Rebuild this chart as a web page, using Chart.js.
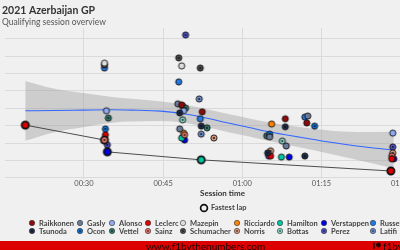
<!DOCTYPE html>
<html>
<head>
<meta charset="utf-8">
<script src="https://cdn.jsdelivr.net/npm/chart.js@4.4.1/dist/chart.umd.min.js"></script>
<style>
  html, body { margin: 0; padding: 0; background: #f0f0f0; overflow: hidden; }
  #wrap { width: 400px; height: 250px; overflow: hidden; }
</style>
</head>
<body>
<div id="wrap"><canvas id="chart" width="445" height="250"></canvas></div>
<script>
// drivers in legend order (column by column), second driver of each team gets a dot
const drivers = ['Raikkonen', 'Tsunoda', 'Gasly', 'Ocon', 'Alonso', 'Vettel', 'Leclerc', 'Sainz', 'Mazepin',
    'Schumacher', 'Ricciardo', 'Norris', 'Hamilton', 'Bottas', 'Verstappen', 'Perez', 'Russell', 'Latifi'];
const driverColors = ['#8f0a0a', '#1d2a48', '#6b7a99', '#0b6fd6', '#8eaaf2', '#2f7a6c', '#dc0000', '#e4716a', '#dedede',
    '#4a4a4a', '#ff8200', '#d3967a', '#00c4a4', '#86d4c8', '#0000e6', '#4f4fc4', '#1f78e4', '#6f8dcc'];
const withDot = [false, true, false, true, false, true, false, true, false,
    true, false, true, false, true, false, true, false, true];

// every lap: driver, session time (minutes), lap time (seconds)
const lapDriver = [
    'Raikkonen', 'Raikkonen', 'Raikkonen', 'Raikkonen',
    'Tsunoda', 'Tsunoda', 'Tsunoda', 'Tsunoda', 'Tsunoda',
    'Gasly', 'Gasly', 'Gasly', 'Gasly', 'Gasly',
    'Ocon', 'Ocon', 'Ocon',
    'Alonso', 'Alonso', 'Alonso',
    'Vettel', 'Vettel', 'Vettel', 'Vettel',
    'Leclerc', 'Leclerc', 'Leclerc',
    'Sainz', 'Sainz',
    'Schumacher', 'Schumacher', 'Schumacher',
    'Mazepin', 'Mazepin',
    'Ricciardo', 'Ricciardo',
    'Norris', 'Norris', 'Norris', 'Norris',
    'Hamilton', 'Hamilton',
    'Bottas', 'Bottas',
    'Verstappen', 'Verstappen', 'Verstappen',
    'Perez', 'Perez', 'Perez', 'Perez',
    'Russell', 'Russell', 'Russell', 'Russell',
    'Latifi', 'Latifi'
];
const lapSession = [
    48.52, 52.41, 68.15, 72.22,
    48.15, 52.22, 68.15, 64.81, 71.85,
    47.78, 48.15, 72.41, 68.33, 65.19,
    34.07, 73.70, 65.19,
    34.26, 48.89, 88.52,
    34.63, 49.26, 53.33, 64.63,
    34.07, 65.37, 88.33,
    49.07, 88.33,
    33.89, 47.96, 52.04,
    33.89, 48.52,
    48.89, 65.56,
    48.70, 54.63, 65.37, 88.52,
    48.52, 67.41,
    48.70, 67.59,
    49.07, 68.89, 88.70,
    34.44, 49.26, 65.00, 88.52,
    33.89, 47.96, 52.04, 71.85,
    51.85, 52.22
];
const lapSeconds = [
    103.10, 102.90, 102.70, 102.58,
    102.87, 102.49, 102.47, 101.72, 101.63,
    103.13, 102.41, 102.78, 101.92, 102.18,
    102.41, 102.49, 102.26,
    102.93, 102.93, 102.29,
    102.72, 103.01, 102.44, 102.21,
    102.24, 101.63, 101.55,
    102.24, 101.63,
    104.25, 104.45, 104.16,
    104.30, 104.22,
    102.29, 102.55,
    103.07, 102.15, 101.78, 101.72,
    102.15, 101.60,
    102.67, 102.06,
    102.09, 101.60, 101.55,
    101.95, 105.11, 101.63, 101.89,
    104.16, 103.76, 102.70, 102.75,
    103.27, 102.26
];

// progression of the session's fastest lap
const fastDriver = ['Leclerc', 'Sainz', 'Verstappen', 'Hamilton', 'Leclerc'];
const fastSession = [18.89, 33.89, 34.44, 52.22, 88.15];
const fastSeconds = [102.52, 102.09, 101.75, 101.52, 101.20];

// smoothed trend with its confidence band
const trendSession = [18.89, 24.26, 29.81, 35.37, 39.07, 44.63, 49.26, 52.04, 57.59, 61.30, 65.00, 70.56, 76.11, 81.67, 88.70];
const trendFit = [102.93, 102.94, 102.95, 102.96, 102.95, 102.92, 102.84, 102.76, 102.57, 102.45, 102.33, 102.18, 102.04, 101.92, 101.80];
const trendUpper = [103.79, 103.57, 103.44, 103.33, 103.28, 103.20, 103.10, 103.02, 102.83, 102.71, 102.60, 102.47, 102.37, 102.32, 102.33];
const trendLower = [102.07, 102.31, 102.46, 102.59, 102.62, 102.64, 102.58, 102.50, 102.31, 102.19, 102.06, 101.89, 101.71, 101.52, 101.27];

const xTicks = [30, 45, 60, 75, 90];

function makeMarker(color, dot, fast) {
    const size = 12;
    const c = document.createElement('canvas');
    c.width = size;
    c.height = size;
    const g = c.getContext('2d');
    g.beginPath();
    g.arc(size / 2, size / 2, fast ? 3.6 : 3.1, 0, Math.PI * 2);
    g.fillStyle = color;
    g.fill();
    g.lineWidth = fast ? 1.8 : 0.9;
    g.strokeStyle = '#111';
    g.stroke();
    if (dot) {
        g.beginPath();
        g.arc(size / 2, size / 2, 0.9, 0, Math.PI * 2);
        g.fillStyle = '#111';
        g.fill();
    }
    return c;
}

function pts(xs, ys) {
    return xs.map((x, i) => ({ x: x, y: ys[i] }));
}

function fmtTime(v) {
    const h = Math.floor(v / 60);
    const m = Math.round(v % 60);
    return String(h).padStart(2, '0') + ':' + String(m).padStart(2, '0');
}

const driverSets = drivers.map((d, i) => {
    const xs = [], ys = [];
    lapDriver.forEach((n, k) => {
        if (n === d) { xs.push(lapSession[k]); ys.push(lapSeconds[k]); }
    });
    return {
        label: d,
        data: pts(xs, ys),
        pointStyle: makeMarker(driverColors[i], withDot[i], false),
        pointRadius: 3,
        showLine: false,
        order: 2
    };
});

const fastMarkers = fastDriver.map(d => {
    const i = drivers.indexOf(d);
    return makeMarker(driverColors[i], withDot[i], true);
});

const decor = {
    id: 'decor',
    beforeDraw(chart) {
        const ctx = chart.ctx;
        ctx.save();
        ctx.fillStyle = '#f0f0f0';
        ctx.fillRect(0, 0, chart.width, chart.height);
        ctx.restore();
    },
    afterDraw(chart) {
        const ctx = chart.ctx;
        ctx.save();
        // title
        ctx.textAlign = 'left';
        ctx.textBaseline = 'alphabetic';
        ctx.fillStyle = '#333';
        ctx.font = 'bold 10.5px Lato';
        ctx.fillText('2021 Azerbaijan GP', 2, 14);
        ctx.fillStyle = '#555';
        ctx.font = '8.5px Lato';
        ctx.fillText('Qualifying session overview', 2, 24.5);

        // axis title
        ctx.textAlign = 'center';
        ctx.textBaseline = 'middle';
        ctx.fillStyle = '#333';
        ctx.font = 'bold 8px Lato';
        ctx.fillText('Session time', 222.5, 193.5);

        // fastest lap key
        ctx.beginPath();
        ctx.arc(204, 208, 3.4, 0, Math.PI * 2);
        ctx.fillStyle = '#f0f0f0';
        ctx.fill();
        ctx.lineWidth = 1.7;
        ctx.strokeStyle = '#111';
        ctx.stroke();
        ctx.textAlign = 'left';
        ctx.fillStyle = '#444';
        ctx.font = 'bold 7.5px Lato';
        ctx.fillText('Fastest lap', 211, 208);

        // driver key
        const cols = [32, 80, 112, 148, 183, 237, 280, 324, 373];
        drivers.forEach((d, i) => {
            const x = cols[Math.floor(i / 2)];
            const y = i % 2 ? 231 : 223;
            ctx.beginPath();
            ctx.arc(x, y, 2.7, 0, Math.PI * 2);
            ctx.fillStyle = driverColors[i];
            ctx.fill();
            ctx.lineWidth = 0.6;
            ctx.strokeStyle = '#333';
            ctx.stroke();
            if (withDot[i]) {
                ctx.beginPath();
                ctx.arc(x, y, 0.8, 0, Math.PI * 2);
                ctx.fillStyle = '#111';
                ctx.fill();
            }
            ctx.fillStyle = '#444';
            ctx.fillText(d, x + 7, y + 0.5);
        });

        // footer
        ctx.fillStyle = '#dc0000';
        ctx.fillRect(0, 241, chart.width, 9);
        ctx.fillStyle = '#1a0000';
        ctx.font = '10px Lato';
        ctx.textBaseline = 'alphabetic';
        ctx.fillText('www.f1bythenumbers.com', 146, 249.5);
        ctx.fillRect(373, 242.5, 1.6, 6.5);
        ctx.beginPath();
        ctx.arc(378.5, 245, 2.4, 0, Math.PI * 2);
        ctx.fill();
        ctx.fillText('f1bythenumbers', 383, 249.5);
        ctx.restore();
    }
};

const chart = new Chart(document.getElementById('chart'), {
    type: 'scatter',
    data: {
        datasets: [
            {
                label: 'band',
                data: pts(trendSession, trendUpper),
                showLine: true,
                borderColor: 'transparent',
                pointRadius: 0,
                cubicInterpolationMode: 'monotone',
                fill: '+1',
                backgroundColor: 'rgba(153,153,153,0.4)',
                order: 6
            },
            {
                label: 'bandLow',
                data: pts(trendSession, trendLower),
                showLine: true,
                borderColor: 'transparent',
                pointRadius: 0,
                cubicInterpolationMode: 'monotone',
                fill: false,
                order: 6
            },
            {
                label: 'trend',
                data: pts(trendSession, trendFit),
                showLine: true,
                borderColor: '#3366ff',
                borderWidth: 1.1,
                pointRadius: 0,
                cubicInterpolationMode: 'monotone',
                order: 5
            },
            {
                label: 'fastestLine',
                data: pts(fastSession, fastSeconds),
                showLine: true,
                borderColor: '#3a3a3a',
                borderWidth: 0.9,
                pointRadius: 0,
                order: 4
            },
            ...driverSets,
            {
                label: 'fastest',
                data: pts(fastSession, fastSeconds),
                showLine: false,
                pointRadius: 3,
                pointStyle: ctx => fastMarkers[ctx.dataIndex],
                order: 1
            }
        ]
    },
    options: {
        responsive: false,
        animation: false,
        devicePixelRatio: 1,
        events: [],
        layout: { padding: { top: 28, left: 0, right: 0, bottom: 0 } },
        plugins: {
            legend: { display: false },
            tooltip: { enabled: false },
            title: { display: false }
        },
        scales: {
            x: {
                type: 'linear',
                min: 15.05,
                max: 97.46,
                afterFit: s => { s.height = 71; },
                afterBuildTicks: s => { s.ticks = xTicks.map(v => ({ value: v })); },
                grid: { color: '#dadada', lineWidth: 1, drawTicks: false },
                border: { display: false },
                ticks: {
                    padding: 0,
                    color: '#555',
                    font: { family: 'Lato', size: 7.5 },
                    maxRotation: 0,
                    autoSkip: false,
                    callback: v => fmtTime(v)
                }
            },
            y: {
                type: 'linear',
                min: 100.97,
                max: 105.31,
                afterFit: s => { s.width = 0; },
                grid: { color: '#dadada', lineWidth: 1, drawTicks: false },
                border: { display: false },
                ticks: { display: false, stepSize: 0.5, includeBounds: false }
            }
        }
    },
    plugins: [decor]
});
</script>
</body>
</html>
